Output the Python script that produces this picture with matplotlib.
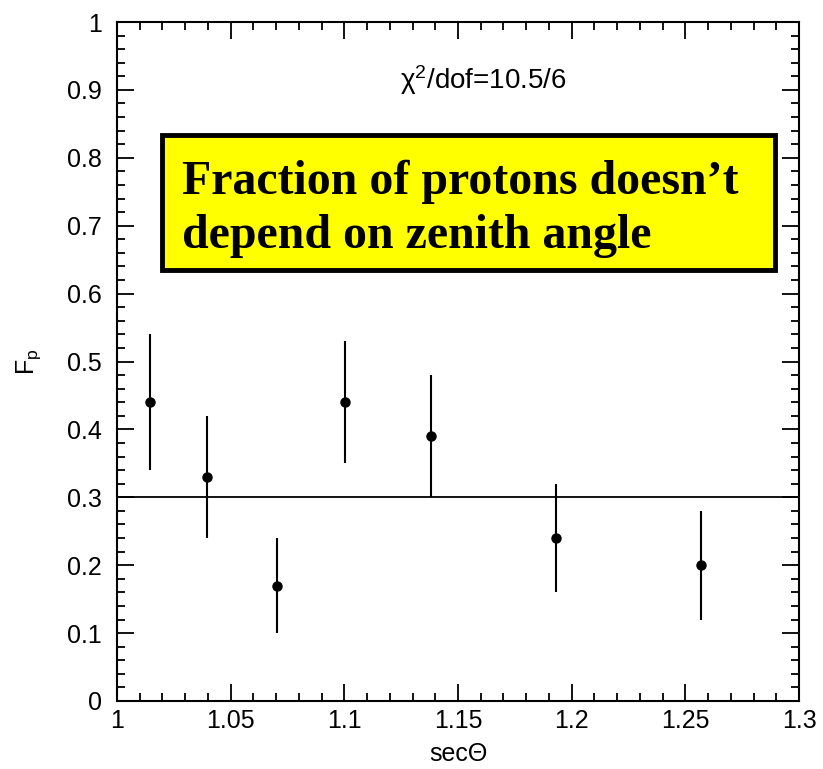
import matplotlib.pyplot as plt
from matplotlib.patches import Rectangle
from matplotlib.ticker import MultipleLocator

# data
sec_theta = [1.0145, 1.0395, 1.0705, 1.1003, 1.138, 1.193, 1.257]
f_p = [0.44, 0.33, 0.17, 0.44, 0.39, 0.24, 0.20]
err_lo = [0.10, 0.09, 0.07, 0.09, 0.09, 0.08, 0.08]
err_hi = [0.10, 0.09, 0.07, 0.09, 0.09, 0.08, 0.08]
fit_value = 0.3
x_ticks = [1, 1.05, 1.1, 1.15, 1.2, 1.25, 1.3]
x_labels = ['1', '1.05', '1.1', '1.15', '1.2', '1.25', '1.3']
y_ticks = [0, 0.1, 0.2, 0.3, 0.4, 0.5, 0.6, 0.7, 0.8, 0.9, 1]
y_labels = ['0', '0.1', '0.2', '0.3', '0.4', '0.5', '0.6', '0.7', '0.8', '0.9', '1']

plt.rcParams['font.family'] = ['Liberation Sans', 'DejaVu Sans']

fig = plt.figure(figsize=(8.23, 7.69), dpi=100)
ax = fig.add_axes([117 / 823, 1 - 701 / 769, 682 / 823, 679 / 769])

ax.errorbar(sec_theta, f_p, yerr=[err_lo, err_hi], fmt='o', color='black',
            ms=6.5, elinewidth=1.5, capsize=0)
ax.axhline(fit_value, color='black', lw=1.3)

ax.set_xlim(1, 1.3)
ax.set_ylim(0, 1)
ax.xaxis.set_minor_locator(MultipleLocator(0.01))
ax.yaxis.set_minor_locator(MultipleLocator(0.02))
ax.set_xticks(x_ticks)
ax.set_xticklabels(x_labels)
ax.set_yticks(y_ticks)
ax.set_yticklabels(y_labels)
ax.tick_params(which='both', direction='in', top=True, right=True, labelsize=18, width=1.3)
ax.tick_params(which='major', length=12)
ax.tick_params(which='minor', length=6)
ax.tick_params(axis='x', which='major', pad=6)
ax.tick_params(axis='y', which='major', pad=11)
for s in ax.spines.values():
    s.set_linewidth(1.5)

ax.set_xlabel('sec\u0398', fontsize=18, labelpad=6)
ax.set_ylabel('F$_\\mathregular{p}$', fontsize=18, labelpad=17)

ax.text(0.537, 0.915, '$\\mathregular{\\chi^2}$/dof=10.5/6', transform=ax.transAxes,
        ha='center', va='center', fontsize=20)

ax.add_patch(Rectangle((0.066, 0.635), 0.899, 0.199, transform=ax.transAxes,
                       facecolor='#ffff00', edgecolor='black', lw=3.5, zorder=3))
# va='baseline' pins the last line, so y is the baseline of "depend on ..."
ax.text(0.0953, 0.667, 'Fraction of protons doesn\u2019t\ndepend on zenith angle',
        transform=ax.transAxes, ha='left', va='baseline', fontsize=34.5,
        fontweight='bold', family=['Liberation Serif', 'DejaVu Serif'],
        linespacing=1.31, zorder=4)

fig.savefig('out.png', dpi=100)
